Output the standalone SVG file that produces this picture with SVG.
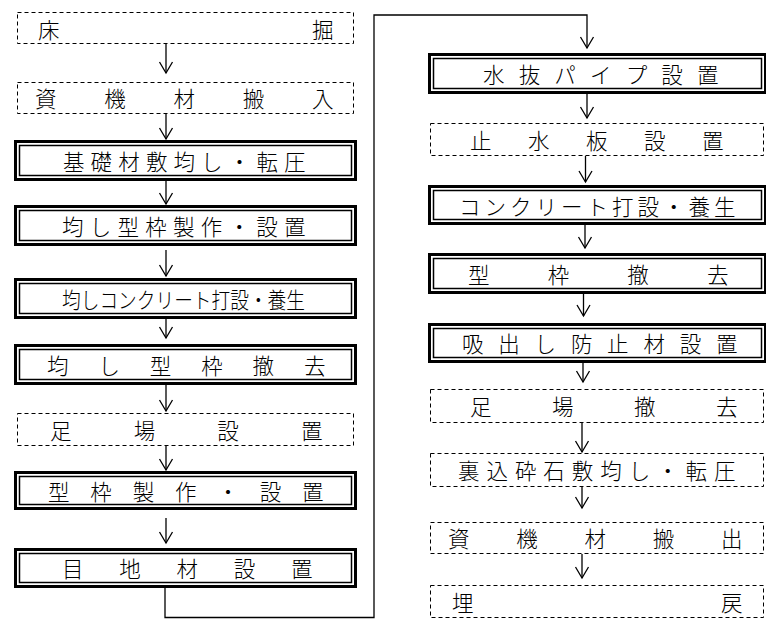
<svg xmlns="http://www.w3.org/2000/svg" width="766" height="619" viewBox="0 0 766 619">
<style>
.dash{fill:#fff;stroke:#000;stroke-width:1;stroke-dasharray:4 3}
.outer{fill:#fff;stroke:#000;stroke-width:3}
.inner{fill:none;stroke:#000;stroke-width:1.5}
.t{font-family:"Noto Sans CJK JP","Noto Sans CJK SC",sans-serif;font-size:21.5px;font-weight:300;fill:#000}
.c{fill:none;stroke:#000;stroke-width:1.3}
</style>
<defs>
<marker id="ah" markerUnits="userSpaceOnUse" orient="auto" refX="0" refY="0" markerWidth="14" markerHeight="16" viewBox="-12 -8 14 16" overflow="visible">
<path d="M-11,-6.5 L0,0 L-11,6.5" fill="none" stroke="#000" stroke-width="1.3"/>
</marker>
</defs>
<rect width="766" height="619" fill="#fff"/>

<g id="connectors">
<line class="c" x1="166" y1="44" x2="166" y2="73" marker-end="url(#ah)"/>
<line class="c" x1="166" y1="114" x2="166" y2="139" marker-end="url(#ah)"/>
<line class="c" x1="166" y1="181" x2="166" y2="204" marker-end="url(#ah)"/>
<line class="c" x1="166" y1="250" x2="166" y2="276" marker-end="url(#ah)"/>
<line class="c" x1="166" y1="319" x2="166" y2="338" marker-end="url(#ah)"/>
<line class="c" x1="166" y1="384" x2="166" y2="411" marker-end="url(#ah)"/>
<line class="c" x1="166" y1="446" x2="166" y2="470" marker-end="url(#ah)"/>
<line class="c" x1="166" y1="518" x2="166" y2="543" marker-end="url(#ah)"/>
<path class="c" d="M165,588 V617.5 H374 V15 H587 V48" marker-end="url(#ah)"/>
<line class="c" x1="587" y1="94" x2="587" y2="118" marker-end="url(#ah)"/>
<line class="c" x1="585.5" y1="156" x2="585.5" y2="182" marker-end="url(#ah)"/>
<line class="c" x1="585" y1="225" x2="585" y2="248" marker-end="url(#ah)"/>
<line class="c" x1="583.5" y1="294" x2="583.5" y2="316" marker-end="url(#ah)"/>
<line class="c" x1="583" y1="358" x2="583" y2="382" marker-end="url(#ah)"/>
<line class="c" x1="582" y1="423" x2="582" y2="452" marker-end="url(#ah)"/>
<line class="c" x1="582" y1="487" x2="582" y2="508" marker-end="url(#ah)"/>
<line class="c" x1="582" y1="554" x2="582" y2="578" marker-end="url(#ah)"/>
</g>

<g id="n1"><rect class="dash" x="17.5" y="12.5" width="336" height="31"/>
<text class="t" x="38 312" y="37.5">床掘</text></g>

<g id="n2"><rect class="dash" x="17.5" y="82.5" width="336" height="31"/>
<text class="t" x="35 104.25 173.5 242.75 312" y="107">資機材搬入</text></g>

<g id="n3"><rect class="outer" x="15.5" y="141.5" width="340" height="38"/><rect class="inner" x="19.5" y="145.5" width="332" height="30"/>
<text class="t" x="63 90.6 118.3 145.9 173.5 201.1 228.8 256.4 284" y="170">基礎材敷均し・転圧</text></g>

<g id="n4"><rect class="outer" x="15.5" y="206.5" width="340" height="38"/><rect class="inner" x="19.5" y="210.5" width="332" height="30"/>
<text class="t" x="62 89.75 117.5 145.25 173 200.75 228.5 256.25 284" y="235">均し型枠製作・設置</text></g>

<g id="n5"><rect class="outer" x="15.5" y="279.5" width="340" height="38"/><rect class="inner" x="19.5" y="283.5" width="332" height="30"/>
<text class="t" x="62" y="308" textLength="243" lengthAdjust="spacingAndGlyphs">均しコンクリート打設・養生</text></g>

<g id="n6"><rect class="outer" x="15.5" y="345.5" width="340" height="38"/><rect class="inner" x="19.5" y="349.5" width="332" height="30"/>
<text class="t" x="47 98.4 149.8 201.2 252.6 304" y="374">均し型枠撤去</text></g>

<g id="n7"><rect class="dash" x="17.5" y="413.5" width="336" height="32"/>
<text class="t" x="50 133.7 217.3 301" y="439">足場設置</text></g>

<g id="n8"><rect class="outer" x="15.5" y="472.5" width="340" height="36"/><rect class="inner" x="19.5" y="476.5" width="332" height="28"/>
<text class="t" x="48 90.3 132.7 175 217.3 259.7 302" y="500">型枠製作・設置</text></g>

<g id="n9"><rect class="outer" x="15.5" y="549.5" width="340" height="37"/><rect class="inner" x="19.5" y="553.5" width="332" height="29"/>
<text class="t" x="62 119.25 176.5 233.75 291" y="577">目地材設置</text></g>

<g id="n10"><rect class="outer" x="429.5" y="54.5" width="336" height="38"/><rect class="inner" x="433.5" y="58.5" width="328" height="30"/>
<text class="t" x="483 518.7 554.3 590 625.7 661.3 697" y="83">水抜パイプ設置</text></g>

<g id="n11"><rect class="dash" x="430.5" y="123.5" width="333" height="32"/>
<text class="t" x="470 528 586 644 702" y="149">止水板設置</text></g>

<g id="n12"><rect class="outer" x="429.5" y="186.5" width="336" height="37"/><rect class="inner" x="433.5" y="190.5" width="328" height="29"/>
<text class="t" x="459 484.5 510 535.5 561 586.5 612 637.5 663 688.5 714" y="214.5">コンクリート打設・養生</text></g>

<g id="n13"><rect class="outer" x="429.5" y="254.5" width="336" height="38"/><rect class="inner" x="433.5" y="258.5" width="328" height="30"/>
<text class="t" x="468 547.7 627.3 707" y="283">型枠撤去</text></g>

<g id="n14"><rect class="outer" x="429.5" y="324.5" width="336" height="37"/><rect class="inner" x="433.5" y="328.5" width="328" height="29"/>
<text class="t" x="462 498.3 534.6 570.9 607.1 643.4 679.7 716" y="352">吸出し防止材設置</text></g>

<g id="n15"><rect class="dash" x="430.5" y="389.5" width="333" height="33"/>
<text class="t" x="470 552 634 716" y="415">足場撤去</text></g>

<g id="n16"><rect class="dash" x="430.5" y="453.5" width="333" height="33"/>
<text class="t" x="458 486.4 514.9 543.3 571.8 600.2 628.7 657.1 685.6 714" y="479">裏込砕石敷均し・転圧</text></g>

<g id="n17"><rect class="dash" x="430.5" y="522.5" width="333" height="31"/>
<text class="t" x="448 516.25 584.5 652.75 721" y="547">資機材搬出</text></g>

<g id="n18"><rect class="dash" x="430.5" y="585.5" width="333" height="32"/>
<text class="t" x="452 721" y="611">埋戻</text></g>
</svg>
